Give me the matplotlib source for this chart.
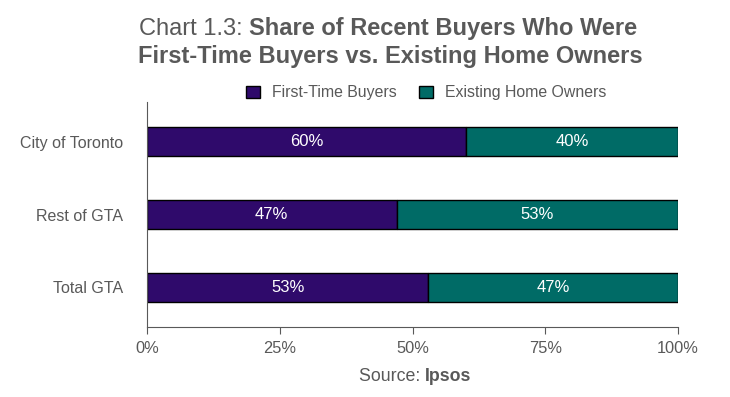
import matplotlib.pyplot as plt

# Chart 1.3 data (percent)
regions = ["City of Toronto", "Rest of GTA", "Total GTA"]
first_time = [60, 47, 53]
existing = [40, 53, 47]
series_names = ["First-Time Buyers", "Existing Home Owners"]
x_ticks = [0, 25, 50, 75, 100]

plt.rcParams['font.family'] = ['Liberation Sans', 'DejaVu Sans']
grey = '#595959'
purple = '#2f0a6b'
teal = '#006b66'

fig = plt.figure(figsize=(7.30, 3.97), dpi=100)
ax = fig.add_axes([0.2014, 0.1763, 0.7274, 0.5667])

ypos = list(range(len(regions)))
ax.barh(ypos, first_time, height=0.4, color=purple, edgecolor='black',
        linewidth=1, label=series_names[0])
ax.barh(ypos, existing, left=first_time, height=0.4, color=teal,
        edgecolor='black', linewidth=1, label=series_names[1])

# value labels inside bars
for y, a, b in zip(ypos, first_time, existing):
    ax.text(a / 2, y, f"{a}%", ha='center', va='center', color='white', fontsize=12)
    ax.text(a + b / 2, y, f"{b}%", ha='center', va='center', color='white', fontsize=12)

ax.set_xlim(0, 100)
ax.set_ylim(2.55, -0.55)
ax.set_yticks(ypos)
ax.set_yticklabels(regions, fontsize=11.5, color=grey)
ax.set_xticks(x_ticks)
ax.set_xticklabels([f"{t}%" for t in x_ticks], fontsize=11.8, color=grey)
ax.tick_params(axis='y', length=0, pad=17)
ax.tick_params(axis='x', length=5, color=grey, pad=5)
for s in ['top', 'right']:
    ax.spines[s].set_visible(False)
ax.spines['left'].set_color(grey)
ax.spines['bottom'].set_color(grey)

leg = fig.legend(loc='center', bbox_to_anchor=(0.584, 0.766), ncol=2,
                 frameon=False, fontsize=11.4, handlelength=0.85, handleheight=0.85,
                 columnspacing=1.4, handletextpad=0.8)
for t in leg.get_texts():
    t.set_color(grey)

# title: normal prefix + bold remainder, centred as one line
fig.canvas.draw()
r = fig.canvas.get_renderer()
t1 = fig.text(0, 0, "Chart 1.3: ", fontsize=17, color=grey)
t2 = fig.text(0, 0, "Share of Recent Buyers Who Were", fontsize=17,
              color=grey, fontweight='bold')
w1 = t1.get_window_extent(r).width / fig.bbox.width
w2 = t2.get_window_extent(r).width / fig.bbox.width
x0 = 0.532 - (w1 + w2) / 2
y1 = 1 - 35 / 397
t1.set_position((x0, y1))
t2.set_position((x0 + w1, y1))
fig.text(0.534, 1 - 63 / 397, "First-Time Buyers vs. Existing Home Owners",
         fontsize=17, color=grey, fontweight='bold', ha='center')

# source line
s1 = fig.text(0, 0, "Source: ", fontsize=12.8, color=grey)
s2 = fig.text(0, 0, "Ipsos", fontsize=12.8, color=grey, fontweight='bold')
sw1 = s1.get_window_extent(r).width / fig.bbox.width
sw2 = s2.get_window_extent(r).width / fig.bbox.width
sx = 0.5685 - (sw1 + sw2) / 2
s1.set_position((sx, 1 - 381 / 397))
s2.set_position((sx + sw1, 1 - 381 / 397))

fig.savefig("out.png", dpi=100)
